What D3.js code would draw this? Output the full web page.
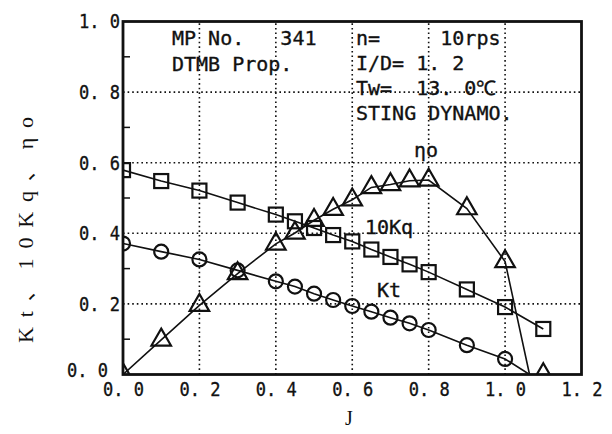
<!DOCTYPE html>
<html>
<head>
<meta charset="utf-8">
<script src="https://cdn.jsdelivr.net/npm/d3@7"></script>
<style>
  html, body { margin: 0; padding: 0; background: #fff; }
  svg { display: block; }
  text { fill: #111; }
</style>
</head>
<body>
<svg id="chart" width="612" height="434"></svg>
<script>
// ---- data ----
const J      = [0, 0.1, 0.2, 0.3, 0.4, 0.45, 0.5, 0.55, 0.6, 0.65, 0.7, 0.75, 0.8, 0.9, 1.0, 1.1];
const kq10   = [0.579, 0.548, 0.521, 0.487, 0.453, 0.434, 0.415, 0.395, 0.377, 0.354, 0.333, 0.312, 0.290, 0.241, 0.191, 0.129];
const ktJ    = [0, 0.1, 0.2, 0.3, 0.4, 0.45, 0.5, 0.55, 0.6, 0.65, 0.7, 0.75, 0.8, 0.9, 1.0];
const kt     = [0.371, 0.348, 0.326, 0.295, 0.264, 0.249, 0.229, 0.211, 0.194, 0.178, 0.161, 0.145, 0.126, 0.083, 0.044];
const eta    = [0, 0.098, 0.196, 0.286, 0.370, 0.401, 0.437, 0.468, 0.495, 0.530, 0.538, 0.549, 0.551, 0.470, 0.320, 0];
const zeroThrustJ = 1.064;
const xTicks = [0, 0.2, 0.4, 0.6, 0.8, 1.0, 1.2];
const yTicks = [0, 0.2, 0.4, 0.6, 0.8, 1.0];
const yMinor = [0.1, 0.3, 0.5, 0.7, 0.9];
const infoLeft  = ["MP No.   341", "DTMB Prop."];
const infoRight = ["n=     10rps", "I/D= 1. 2", "Tw=  13. 0℃", "STING DYNAMO."];

// ---- layout ----
const svg = d3.select("#chart");
const W = 612, H = 434;
const m = {left: 123, top: 21.5, right: 30.5, bottom: 59.5};
const x = d3.scaleLinear().domain([0, 1.2]).range([m.left, W - m.right]);
const y = d3.scaleLinear().domain([0, 1.0]).range([H - m.bottom, m.top]);
const mono = "'DejaVu Sans Mono', 'Liberation Mono', monospace";
const fmt = d => d3.format(".1f")(d).replace(".", ". ");
const ink = s => s.attr("stroke", "#111").attr("stroke-width", 0.35);
const tickText = s => s.attr("font-family", mono).attr("font-size", 20).attr("fill", "#111")
  .attr("textLength", 41).attr("lengthAdjust", "spacingAndGlyphs").call(ink);

svg.append("defs").append("clipPath").attr("id", "plot")
  .append("rect").attr("x", x(0)).attr("y", y(1)).attr("width", x(1.2) - x(0)).attr("height", y(0) - y(1));

// grid (dotted)
const grid = svg.append("g").attr("stroke", "#111").attr("stroke-width", 1.6).attr("stroke-dasharray", "1.6,3");
grid.selectAll(".vg").data(xTicks.filter(d => d > 0 && d < 1.2)).join("line")
  .attr("x1", d => x(d)).attr("x2", d => x(d)).attr("y1", y(0)).attr("y2", y(1));
grid.selectAll(".hg").data(yTicks.filter(d => d > 0 && d < 1.0)).join("line")
  .attr("x1", x(0)).attr("x2", x(1.2)).attr("y1", d => y(d)).attr("y2", d => y(d));

// minor inward ticks on left axis
svg.append("g").selectAll("line").data(yMinor).join("line")
  .attr("x1", x(0)).attr("x2", x(0) + 7).attr("y1", d => y(d)).attr("y2", d => y(d))
  .attr("stroke", "#111").attr("stroke-width", 1.5);

// axes (labels)
const xAxis = svg.append("g").attr("transform", `translate(0,${y(0)})`)
  .call(d3.axisBottom(x).tickValues(xTicks).tickFormat(fmt).tickSize(0).tickPadding(7));
xAxis.select(".domain").remove();
xAxis.selectAll("text").call(tickText);

const yAxis = svg.append("g").attr("transform", `translate(${x(0)},0)`)
  .call(d3.axisLeft(y).tickValues(yTicks).tickFormat(fmt).tickSize(0).tickPadding(3));
yAxis.select(".domain").remove();
yAxis.selectAll("text").call(tickText);
// the bottom y label sits a little to the left (and just clear of the x label)
yAxis.selectAll(".tick").filter(d => d === 0).select("text").attr("dx", -12).attr("y", -4);

// lines
const line = d3.line().x(d => x(d[0])).y(d => y(d[1]));
const plot = svg.append("g").attr("clip-path", "url(#plot)");
const kqPts  = J.map((j, i) => [j, kq10[i]]);
const ktPts  = ktJ.map((j, i) => [j, kt[i]]);
const etaPts = J.map((j, i) => [j, eta[i]]);
const lineStyle = s => s.attr("fill", "none").attr("stroke", "#111").attr("stroke-width", 1.6);
plot.append("path").datum(kqPts).attr("d", line).call(lineStyle);
plot.append("path").datum(ktPts.concat([[zeroThrustJ, 0]])).attr("d", line).call(lineStyle);
plot.append("path").datum(etaPts.filter(p => p[0] <= 1.0).concat([[zeroThrustJ, 0]])).attr("d", line).call(lineStyle);

// markers
const mk = s => s.attr("fill", "none").attr("stroke", "#111").attr("stroke-width", 2.2);
plot.append("g").selectAll("rect").data(kqPts).join("rect")
  .attr("x", d => x(d[0]) - 7).attr("y", d => y(d[1]) - 7).attr("width", 14).attr("height", 14).call(mk);
plot.append("g").selectAll("circle").data(ktPts).join("circle")
  .attr("cx", d => x(d[0])).attr("cy", d => y(d[1])).attr("r", 7).call(mk);
const tri = d3.symbol().type(d3.symbolTriangle).size(165);
plot.append("g").selectAll("path").data(etaPts).join("path")
  .attr("d", tri).attr("transform", d => `translate(${x(d[0])},${y(d[1])})`).call(mk);

// frame
svg.append("rect").attr("x", x(0)).attr("y", y(1)).attr("width", x(1.2) - x(0)).attr("height", y(0) - y(1))
  .attr("fill", "none").attr("stroke", "#111").attr("stroke-width", 2.8);

// curve labels
const lab = (t, px, py) => svg.append("text").attr("x", px).attr("y", py).attr("font-family", mono)
  .attr("font-size", 20).attr("xml:space", "preserve").style("white-space", "pre").call(ink).text(t);
lab("ηo", 414, 157);
lab("10Kq", 365, 234);
lab("Kt", 377, 297);

// info block
infoLeft.forEach((t, i) => lab(t, 172, 45 + i * 26));
infoRight.forEach((t, i) => lab(t, 356, 45 + i * 25));

// axis titles
svg.append("text").attr("transform", "translate(33,230) rotate(-90)").attr("text-anchor", "middle")
  .attr("font-family", "'Liberation Serif', 'Noto Sans CJK JP', serif").attr("font-size", 22)
  .attr("textLength", 226).attr("lengthAdjust", "spacing").text("Kt、10Kq、ηo");
svg.append("text").attr("x", 349).attr("y", 425).attr("text-anchor", "middle")
  .attr("font-family", "'Liberation Serif', serif").attr("font-size", 20).text("J");
</script>
</body>
</html>
